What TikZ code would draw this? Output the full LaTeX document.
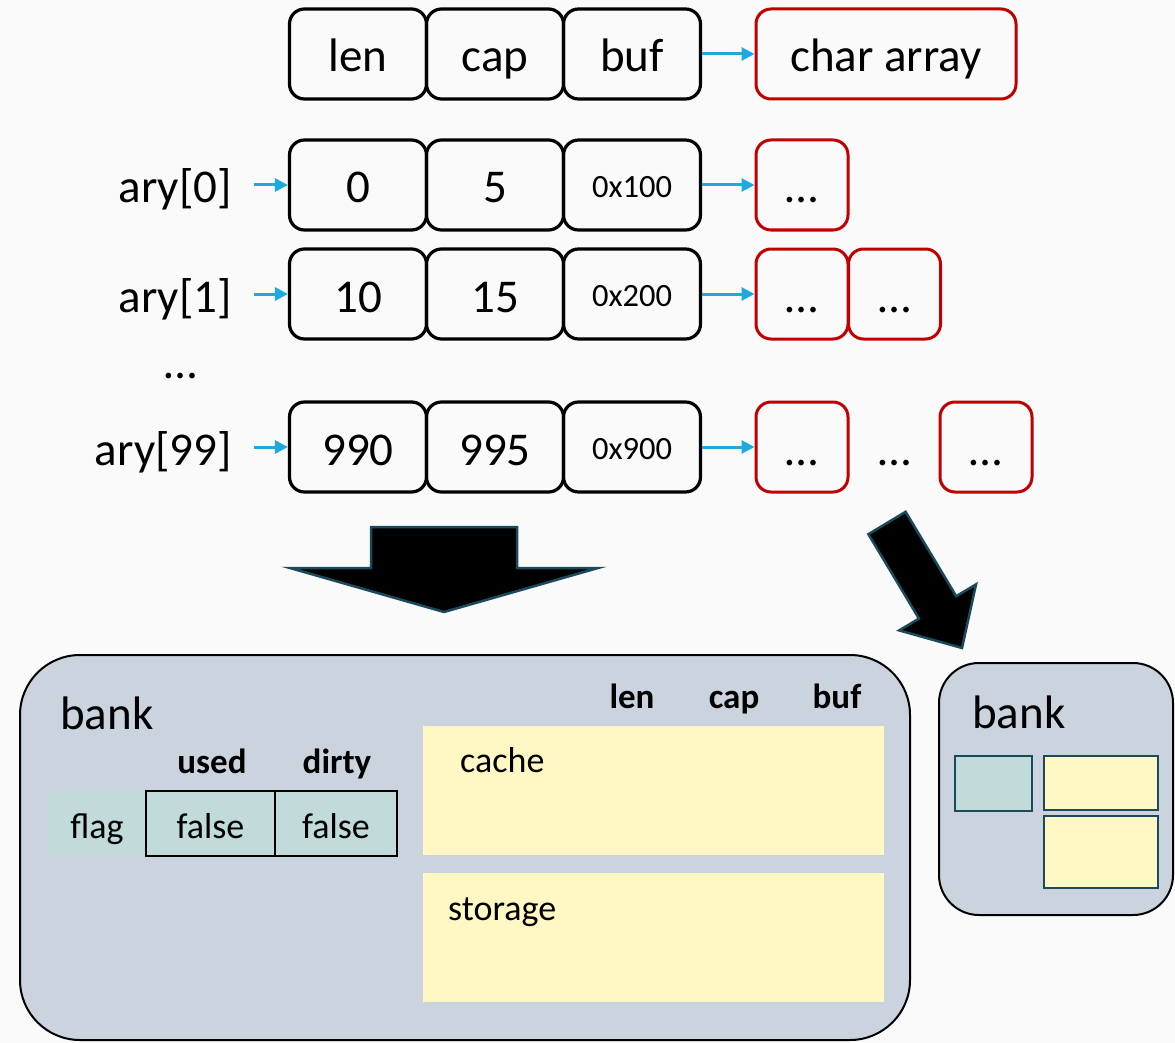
\documentclass[tikz,border=0pt]{standalone}
\usepackage{fontspec}
\setmainfont{Carlito}
\usetikzlibrary{arrows.meta}

\definecolor{ptrblue}{HTML}{1FA9E1}
\definecolor{arrred}{HTML}{C00000}
\definecolor{bankfill}{HTML}{CBD4DE}
\definecolor{flagfill}{HTML}{C0DBDA}
\definecolor{memfill}{HTML}{FFF8C4}
\definecolor{edgeteal}{HTML}{1B4A5C}
\definecolor{paper}{HTML}{FAFAFA}

\begin{document}
\begin{tikzpicture}[x=1pt,y=-1pt,
  bigtxt/.style={font=\fontsize{47}{56}\selectfont, text height=45pt, text depth=9pt},
  midtxt/.style={font=\fontsize{36}{43}\selectfont, text height=36pt, text depth=7pt},
  boldtxt/.style={font=\fontsize{35}{42}\selectfont\bfseries},
  hextxt/.style={font=\fontsize{32.5}{39}\selectfont, text height=31pt, text depth=7pt},
  cell/.style={bigtxt, inner sep=0pt, draw=black, line width=3.2pt, rounded corners=15pt,
    minimum width=137pt, minimum height=90pt},
  hexcell/.style={cell, hextxt},
  chunk/.style={bigtxt, inner sep=0pt, draw=arrred, line width=3pt, rounded corners=15pt,
    minimum width=92pt, minimum height=90pt},
  ptr/.style={draw=ptrblue, line width=3pt, -{Triangle[length=13pt,width=13pt]}},
  lbl/.style={bigtxt, inner sep=0pt, anchor=east},
  blockarrow/.style={fill=black, draw=edgeteal, line width=2.5pt, line join=miter},
  flagcell/.style={midtxt, inner sep=0pt, fill=flagfill, minimum height=65pt},
  memregion/.style={fill=memfill, inner sep=0pt},
  minibox/.style={draw=edgeteal, line width=2.8pt, inner sep=0pt},
  bankbox/.style={draw=black, line width=2pt, fill=bankfill, inner sep=0pt},
  plain/.style={inner sep=0pt}
]
\useasboundingbox (0,0) rectangle (1175,1043);
\fill[paper] (0,0) rectangle (1175,1043);

% struct layout
\node[cell] (hlen) at (358,54) {len};
\node[cell] (hcap) at (495,54) {cap};
\node[cell] (hbuf) at (632,54) {buf};
\node[chunk, minimum width=260pt] (hchar) at (886,54) {char array};
\draw[ptr] (hbuf.east) -- (hchar.west);

% ary[0]
\node[lbl] (l0) at (232,185) {ary[0]};
\node[cell] (a0len) at (358,185) {0};
\node[cell] (a0cap) at (495,185) {5};
\node[hexcell] (a0buf) at (632,185) {0x100};
\node[chunk] (a0c1) at (802,185) {…};
\draw[ptr, shorten <=22pt] (l0.east) -- (a0len.west);
\draw[ptr] (a0buf.east) -- (a0c1.west);

% ary[1]
\node[lbl] (l1) at (232,294) {ary[1]};
\node[cell] (a1len) at (358,294) {10};
\node[cell] (a1cap) at (495,294) {15};
\node[hexcell] (a1buf) at (632,294) {0x200};
\node[chunk] (a1c1) at (802,294) {…};
\node[chunk] (a1c2) at (894.5,294) {…};
\draw[ptr, shorten <=22pt] (l1.east) -- (a1len.west);
\draw[ptr] (a1buf.east) -- (a1c1.west);

\node[font=\fontsize{47}{56}\selectfont, anchor=base, plain] (skip) at (181,378) {…};

% ary[99]
\node[lbl] (l99) at (232,447) {ary[99]};
\node[cell] (a99len) at (358,447) {990};
\node[cell] (a99cap) at (495,447) {995};
\node[hexcell] (a99buf) at (632,447) {0x900};
\node[chunk] (a99c1) at (802,447) {…};
\node[bigtxt, plain] (a99gap) at (895,447) {…};
\node[chunk] (a99c3) at (986,447) {…};
\draw[ptr, shorten <=22pt] (l99.east) -- (a99len.west);
\draw[ptr] (a99buf.east) -- (a99c1.west);

% block arrows
\path[blockarrow] (371,527) -- (517,527) -- (517,568) -- (598,568) -- (444,612)
  -- (290,568) -- (371,568) -- cycle;
\path[blockarrow] (868.4,534.2) -- (905.6,511.8) -- (956.2,596.2) -- (976,584.4)
  -- (962,648) -- (899.2,630.4) -- (919,618.6) -- cycle;

% detailed bank
\node[bankbox, rounded corners=60pt, minimum width=890pt, minimum height=385pt] (bank) at (465,847.5) {};
\node[font=\fontsize{47}{56}\selectfont, anchor=base west, plain] (banklbl) at (60,729) {bank};
\node[boldtxt, anchor=base, plain] (used) at (212,773) {used};
\node[boldtxt, anchor=base, plain] (dirty) at (337,773) {dirty};
\node[flagcell, minimum width=98pt] (flag) at (97,823.5) {flag};
\node[flagcell, draw=black, line width=2.2pt, minimum width=129pt] (fused) at (210.5,823.5) {false};
\node[flagcell, draw=black, line width=2.2pt, minimum width=122pt] (fdirty) at (336,823.5) {false};

\node[boldtxt, anchor=base, plain] (clen) at (632,708) {len};
\node[boldtxt, anchor=base, plain] (ccap) at (734,708) {cap};
\node[boldtxt, anchor=base, plain] (cbuf) at (837,708) {buf};
\node[memregion, minimum width=461pt, minimum height=129pt] (cache) at (653.5,790.5) {};
\node[font=\fontsize{36}{43}\selectfont, anchor=base west, plain] (cachelbl) at (460,772) {cache};
\node[memregion, minimum width=461pt, minimum height=129pt] (storage) at (653.5,937.5) {};
\node[font=\fontsize{36}{43}\selectfont, anchor=base west, plain] (storagelbl) at (448,920) {storage};

% compact bank
\node[bankbox, rounded corners=40pt, minimum width=234pt, minimum height=252pt] (sbank) at (1056,789) {};
\node[font=\fontsize{47}{56}\selectfont, anchor=base west, plain] (sbanklbl) at (972,728) {bank};
\node[minibox, fill=flagfill, minimum width=77pt, minimum height=55pt] (sflag) at (993.5,783.5) {};
\node[minibox, fill=memfill, minimum width=114pt, minimum height=54pt] (scache) at (1101,783) {};
\node[minibox, fill=memfill, minimum width=114pt, minimum height=72pt] (sstorage) at (1101,852) {};
\end{tikzpicture}
\end{document}
